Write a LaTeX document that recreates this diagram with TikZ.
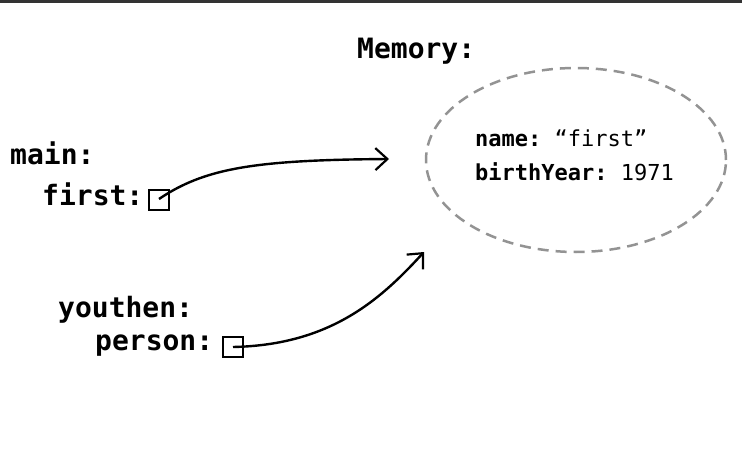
\documentclass[tikz,border=0pt]{standalone}
\usepackage{fontspec}
\setmonofont{DejaVu Sans Mono}
\usetikzlibrary{arrows.meta,shapes.geometric}
\begin{document}
\begin{tikzpicture}[x=1pt,y=-1pt,
  lbl/.style={font=\ttfamily\bfseries\fontsize{28}{30}\selectfont, anchor=base west, inner sep=0pt},
  mem/.style={font=\ttfamily\fontsize{22}{26}\selectfont, anchor=base west, inner sep=0pt},
  refbox/.style={draw=black, line width=2pt, minimum width=20pt, minimum height=20pt, inner sep=0pt},
  ptr/.style={line width=2.4pt, -{Straight Barb[length=12pt,width=22pt,line width=2.2pt]}},
  memcloud/.style={ellipse, draw=gray!85, line width=2.5pt, dash pattern=on 11pt off 7pt, minimum width=300pt, minimum height=184pt, inner sep=0pt}]
\useasboundingbox (0,0) rectangle (742,476);
\fill[black!80] (0,0) rectangle (742,3.5);
\node[lbl] (memlbl) at (357,59) {Memory:};
\node[lbl] (main) at (10,165) {main:};
\node[lbl] (first) at (42,205) {first:};
\node[lbl] (youthen) at (58,317) {youthen:};
\node[lbl] (person) at (95,350) {person:};
\node[refbox] (b1) at (159,200) {};
\node[refbox] (b2) at (233,347) {};
\node[memcloud] (obj) at (576,160) {};
\node[mem] (nm) at (475,147) {\textbf{name:} “first”};
\node[mem] (by) at (475,181) {\textbf{birthYear:} 1971};
\coordinate (t1) at (389,159);
\coordinate (t2) at (424,252);
\draw[ptr] (b1.center) ++(0,-1) .. controls (205,168) and (255,160) .. (t1);
\draw[ptr] (b2.center) .. controls (330,345) and (380,300) .. (t2);
\end{tikzpicture}
\end{document}
